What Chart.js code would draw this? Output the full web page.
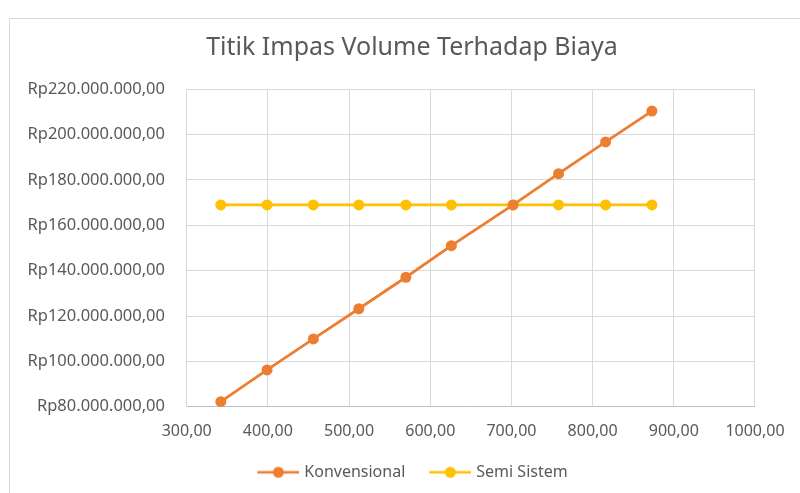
<!DOCTYPE html>
<html>
<head>
<meta charset="utf-8">
<script src="https://cdn.jsdelivr.net/npm/chart.js@4.4.1/dist/chart.umd.min.js"></script>
<style>
  html, body { margin: 0; padding: 0; background: #ffffff; }
  #wrap { position: relative; width: 800px; height: 493px; overflow: hidden; }
  #frame { position: absolute; left: 9px; top: 18px; width: 900px; height: 600px; border: 1px solid #d9d9d9; box-sizing: border-box; }
  #c { position: absolute; left: 0; top: 0; }
</style>
</head>
<body>
<div id="wrap">
  <div id="frame"></div>
  <canvas id="c" width="800" height="493"></canvas>
</div>
<script>
const chartTitle = 'Titik Impas Volume Terhadap Biaya';
const seriesNames = ['Konvensional', 'Semi Sistem'];
const volumes = [342, 399, 456, 512, 570, 626, 702, 758, 816, 873];
const konvensional = [82200000, 96200000, 109900000, 123200000, 137100000, 151000000, 169000000, 182800000, 196800000, 210400000];
const semiSistem = [169000000, 169000000, 169000000, 169000000, 169000000, 169000000, 169000000, 169000000, 169000000, 169000000];
const xTicks = [300, 400, 500, 600, 700, 800, 900, 1000];
const yTicks = [80000000, 100000000, 120000000, 140000000, 160000000, 180000000, 200000000, 220000000];
const colors = ['#ED7D31', '#FFC000'];

function fmtId(v, decimals, group) {
  const neg = v < 0;
  const fixed = Math.abs(v).toFixed(decimals);
  const parts = fixed.split('.');
  const intPart = group ? parts[0].replace(/\B(?=(\d{3})+(?!\d))/g, '.') : parts[0];
  return (neg ? '-' : '') + intPart + (decimals ? ',' + parts[1] : '');
}

function makeMarker(color) {
  const cv = document.createElement('canvas');
  cv.width = 46; cv.height = 14;
  const g = cv.getContext('2d');
  g.strokeStyle = color;
  g.lineWidth = 2.5;
  g.beginPath();
  g.moveTo(4, 7); g.lineTo(46, 7);
  g.stroke();
  g.fillStyle = color;
  g.beginPath();
  g.arc(25, 7, 5.5, 0, Math.PI * 2);
  g.fill();
  return cv;
}

const toPoints = (xs, ys) => xs.map((x, i) => ({ x: x, y: ys[i] }));
const FONT = '"Noto Sans", "Open Sans", sans-serif';
const TEXT = '#595959';

new Chart(document.getElementById('c'), {
  type: 'scatter',
  data: {
    datasets: [
      {
        label: seriesNames[0],
        data: toPoints(volumes, konvensional),
        showLine: true,
        borderColor: colors[0],
        backgroundColor: colors[0],
        borderWidth: 2.75,
        pointRadius: 5.5,
        pointHoverRadius: 5.5,
        pointBorderWidth: 0,
        pointStyle: 'circle',
        tension: 0
      },
      {
        label: seriesNames[1],
        data: toPoints(volumes, semiSistem),
        showLine: true,
        borderColor: colors[1],
        backgroundColor: colors[1],
        borderWidth: 2.75,
        pointRadius: 5.5,
        pointHoverRadius: 5.5,
        pointBorderWidth: 0,
        pointStyle: 'circle',
        tension: 0
      }
    ]
  },
  options: {
    responsive: false,
    animation: false,
    devicePixelRatio: 1,
    layout: { padding: { top: 0, left: 24, right: 0, bottom: 2.7 } },
    plugins: {
      tooltip: { enabled: false },
      title: {
        display: true,
        text: chartTitle,
        color: TEXT,
        font: { family: FONT, size: 25, weight: 'normal' },
        padding: { top: 33, bottom: 26.3 }
      },
      legend: {
        display: true,
        position: 'bottom',
        labels: {
          usePointStyle: true,
          pointStyleWidth: 40,
          boxHeight: 14,
          padding: 23,
          color: TEXT,
          font: { family: FONT, size: 16 },
          generateLabels: (chart) => chart.data.datasets.map((ds, i) => ({
            text: ds.label,
            fillStyle: colors[i],
            strokeStyle: colors[i],
            lineWidth: 0,
            pointStyle: makeMarker(colors[i]),
            hidden: false,
            datasetIndex: i,
            fontColor: TEXT
          }))
        }
      }
    },
    scales: {
      x: {
        type: 'linear',
        position: 'bottom',
        min: 300,
        max: 1000,
        afterBuildTicks: (s) => { s.ticks = xTicks.map(v => ({ value: v })); },
        afterFit: (s) => { s.height = 34.6; },
        grid: { color: '#d9d9d9', lineWidth: 1, drawTicks: false },
        border: { color: '#bfbfbf', width: 1 },
        ticks: {
          padding: 15.4,
          color: TEXT,
          font: { family: FONT, size: 16 },
          maxRotation: 0,
          callback: (v) => fmtId(v, 2, false)
        }
      },
      y: {
        type: 'linear',
        position: 'left',
        min: 80000000,
        max: 220000000,
        afterBuildTicks: (s) => { s.ticks = yTicks.map(v => ({ value: v })); },
        afterFit: (s) => { s.width = 162.7; },
        grid: { color: '#d9d9d9', lineWidth: 1, drawTicks: false },
        border: { color: '#d9d9d9', width: 1 },
        ticks: {
          padding: 21.7,
          color: TEXT,
          font: { family: FONT, size: 16.5 },
          callback: (v) => 'Rp' + fmtId(v, 2, true)
        }
      },
      y2: {
        type: 'linear',
        position: 'right',
        display: true,
        grid: { display: false, drawTicks: false },
        border: { display: false },
        ticks: { display: false },
        afterFit: (s) => { s.width = 41; }
      }
    }
  }
});
</script>
</body>
</html>
